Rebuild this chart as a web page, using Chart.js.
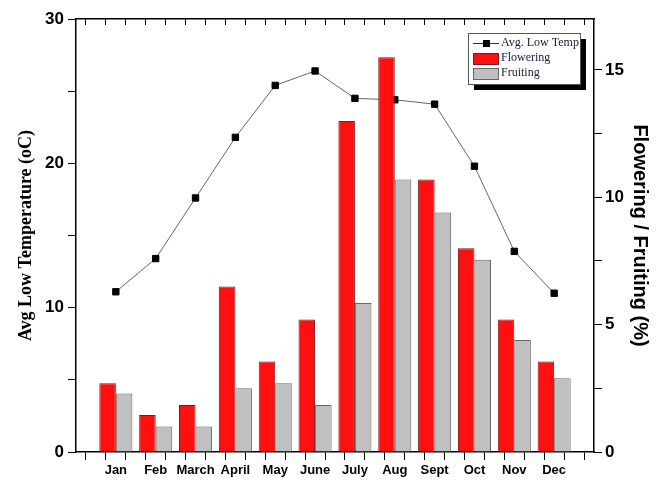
<!DOCTYPE html>
<html>
<head>
<meta charset="utf-8">
<script src="https://cdn.jsdelivr.net/npm/chart.js@4"></script>
<style>
  body { margin: 0; background: #fff; }
</style>
</head>
<body>
<canvas id="chart" width="661" height="484"></canvas>
<script>
// values
var months = ['Jan', 'Feb', 'March', 'April', 'May', 'June', 'July', 'Aug', 'Sept', 'Oct', 'Nov', 'Dec'];
var avg_low_temp = [11.1, 13.4, 17.6, 21.8, 25.4, 26.4, 24.5, 24.4, 24.1, 19.8, 13.9, 11.0];
var flowering = [2.7, 1.45, 1.85, 6.5, 3.55, 5.2, 13.0, 15.5, 10.7, 8.0, 5.2, 3.55];
var fruiting = [2.3, 1.0, 1.0, 2.5, 2.7, 1.85, 5.85, 10.7, 9.4, 7.55, 4.4, 2.9];
var temp_labels = [0, 10, 20, 30];
var percent_labels = [0, 5, 10, 15];

function toPoints(values) {
  return values.map(function(v, i) { return {x: i + 1, y: v}; });
}

var sansBold = function(size) {
  return {family: '"Liberation Sans", Arial, sans-serif', size: size, weight: 'bold'};
};

// legend box with drop shadow, inside the plot like the Origin one
var boxLegend = {
  id: 'boxLegend',
  afterDatasetsDraw: function(chart) {
    var ctx = chart.ctx, area = chart.chartArea;
    var w = 112, h = 51;
    var left = area.right - 14 - w, top = area.top + 14;
    ctx.save();
    ctx.fillStyle = '#000';
    ctx.fillRect(left + 6, top + 6, w, h);
    ctx.fillStyle = '#fff';
    ctx.fillRect(left, top, w, h);
    ctx.strokeStyle = '#555';
    ctx.lineWidth = 1;
    ctx.strokeRect(left + 0.5, top + 0.5, w, h);
    ctx.font = '12px "Liberation Serif", "Times New Roman", serif';
    ctx.textBaseline = 'middle';
    chart.data.datasets.forEach(function(ds, i) {
      var y = top + 10 + i * 15, x = left + 5;
      if (ds.type === 'line') {
        ctx.strokeStyle = '#333';
        ctx.beginPath();
        ctx.moveTo(x, y + 0.5);
        ctx.lineTo(x + 26, y + 0.5);
        ctx.stroke();
        ctx.fillStyle = '#000';
        ctx.fillRect(x + 10, y - 3, 7, 7);
      } else {
        ctx.fillStyle = ds.backgroundColor;
        ctx.fillRect(x, y - 5, 25, 11);
        ctx.strokeStyle = ds.borderColor;
        ctx.strokeRect(x + 0.5, y - 4.5, 25, 11);
      }
      ctx.fillStyle = '#1a1a3a';
      ctx.fillText(ds.label, left + 33, y);
    });
    ctx.restore();
  }
};

var ctx = document.getElementById('chart').getContext('2d');
new Chart(ctx, {
  type: 'bar',
  data: {
    datasets: [{
      type: 'line',
      label: 'Avg. Low Temp',
      data: toPoints(avg_low_temp),
      yAxisID: 'y',
      order: 1,
      borderColor: '#666',
      borderWidth: 1,
      pointStyle: 'rect',
      pointRadius: 4.5,
      pointBackgroundColor: '#000',
      pointBorderColor: '#000',
      pointBorderWidth: 1
    }, {
      label: 'Flowering',
      data: toPoints(flowering),
      yAxisID: 'y1',
      order: 0,
      backgroundColor: '#ff1010',
      borderColor: '#7a1a1a',
      borderWidth: 1
    }, {
      label: 'Fruiting',
      data: toPoints(fruiting),
      yAxisID: 'y1',
      order: 0,
      backgroundColor: '#c0c0c0',
      borderColor: '#666',
      borderWidth: 1
    }]
  },
  options: {
    responsive: false,
    animation: false,
    devicePixelRatio: 1,
    layout: {padding: 0},
    // ruler spacing comes from the half-month ticks, so this is 2 x 0.83
    categoryPercentage: 1.66,
    barPercentage: 1.0,
    plugins: {
      legend: {display: false},
      tooltip: {enabled: false}
    },
    scales: {
      x: {
        type: 'linear',
        position: 'bottom',
        min: 0,
        max: 13,
        offset: false,
        grid: {drawOnChartArea: false, tickLength: 8, tickColor: '#000'},
        border: {color: '#000', width: 1.5},
        ticks: {
          stepSize: 0.5,
          autoSkip: false,
          maxRotation: 0,
          padding: 3,
          color: '#000',
          font: {family: '"Liberation Sans Narrow", "Liberation Sans", Arial, sans-serif', size: 13, weight: 'bold'},
          callback: function(value) {
            return (Number.isInteger(value) && value >= 1 && value <= 12) ? months[value - 1] : '';
          }
        },
        afterFit: function(scale) { scale.height = 32; }
      },
      x2: {
        type: 'linear',
        position: 'top',
        min: 0,
        max: 13,
        offset: false,
        grid: {drawOnChartArea: false, tickLength: -6, tickColor: '#000'},
        border: {color: '#000', width: 1.5},
        ticks: {stepSize: 0.5, autoSkip: false, display: false},
        afterFit: function(scale) { scale.height = 19; }
      },
      y: {
        position: 'left',
        min: 0,
        max: 30,
        grid: {drawOnChartArea: false, tickLength: 8, tickColor: '#000'},
        border: {color: '#000', width: 1.5},
        ticks: {
          stepSize: 5,
          padding: 4,
          color: '#000',
          font: sansBold(17),
          callback: function(value) { return temp_labels.indexOf(value) >= 0 ? value : ''; }
        },
        title: {
          display: true,
          text: 'Avg Low Temperature (oC)',
          color: '#000',
          padding: {top: 16, bottom: 0},
          font: {family: '"Liberation Serif", "Times New Roman", serif', size: 18, weight: 'bold'}
        },
        afterFit: function(scale) { scale.width = 76; }
      },
      y1: {
        position: 'right',
        min: 0,
        max: 17,
        grid: {drawOnChartArea: false, tickLength: 8, tickColor: '#000'},
        border: {color: '#000', width: 1.5},
        ticks: {
          stepSize: 2.5,
          includeBounds: false,
          padding: 3,
          color: '#000',
          font: sansBold(17),
          callback: function(value) { return percent_labels.indexOf(value) >= 0 ? value : ''; }
        },
        title: {
          display: true,
          text: 'Flowering / Fruiting (%)',
          color: '#000',
          padding: {top: 9, bottom: 0},
          font: sansBold(20)
        },
        afterFit: function(scale) { scale.width = 67; }
      }
    }
  },
  plugins: [boxLegend]
});
</script>
</body>
</html>
